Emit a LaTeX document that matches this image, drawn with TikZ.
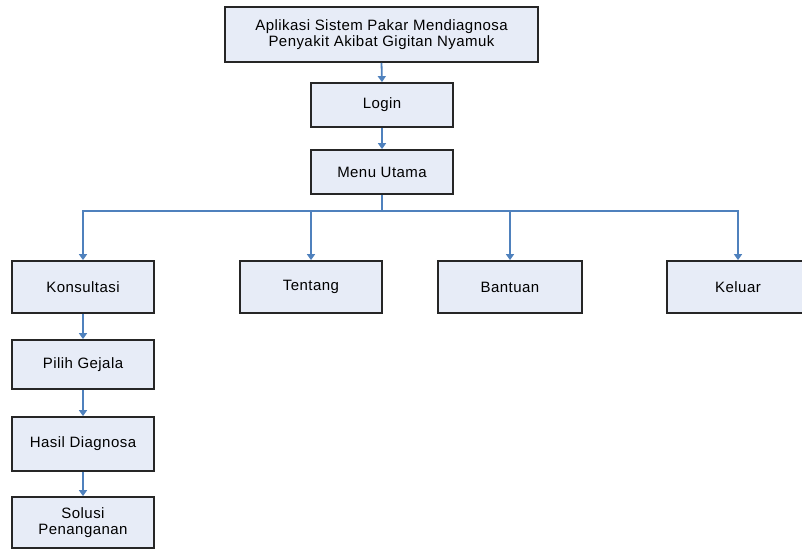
\documentclass[tikz,border=0pt]{standalone}
\usepackage{fontspec}
\setmainfont[LetterSpace=3]{Liberation Sans}
\usetikzlibrary{arrows.meta}
\definecolor{boxfill}{RGB}{231,236,247}
\definecolor{linkblue}{RGB}{79,129,189}
\begin{document}
\begin{tikzpicture}[x=1pt,y=-1pt,
  menubox/.style={draw=black!85, line width=1.8pt, fill=boxfill,
    minimum width=142pt, inner sep=0pt, align=center,
    font=\fontsize{15}{16.5}\selectfont},
  link/.style={draw=linkblue, line width=1.8pt,
    -{Triangle[width=8pt,length=6pt]}}]
\clip (0,0) rectangle (802,550);
\fill[white] (0,0) rectangle (802,550);

% top of the hierarchy
\node[menubox, minimum width=313pt, minimum height=55pt] (app) at (381.5,34.5)
  {Aplikasi Sistem Pakar Mendiagnosa\\Penyakit Akibat Gigitan Nyamuk};
\node[menubox, minimum height=44pt] (login) at (382,105) {Login};
\node[menubox, minimum height=44pt] (menu) at (382,172) {Menu Utama};

% main menu entries
\node[menubox, minimum height=52pt] (kons) at (83,287) {Konsultasi};
\node[menubox, minimum height=52pt] (tentang) at (311,287) {Tentang};
\node[menubox, minimum height=52pt, minimum width=144pt] (bantuan) at (510,287) {Bantuan};
\node[menubox, minimum height=52pt] (keluar) at (738,287) {Keluar};

% consultation flow
\node[menubox, minimum height=49pt] (gejala) at (83,364.5) {Pilih Gejala};
\node[menubox, minimum height=54pt] (hasil) at (83,444) {Hasil Diagnosa};
\node[menubox, minimum height=51pt] (solusi) at (83,522.5) {Solusi\\Penanganan};

\coordinate (bus) at (382,211);

% connectors
\draw[link] (app.south) -- (login.north);
\draw[link] (login.south) -- (menu.north);
\draw[draw=linkblue, line width=1.8pt] (menu.south) -- (bus);
\draw[link] (bus) -| (kons.north);
\draw[link] (bus) -| (tentang.north);
\draw[link] (bus) -| (bantuan.north);
\draw[link] (bus) -| (keluar.north);
\draw[link] (kons.south) -- (gejala.north);
\draw[link] (gejala.south) -- (hasil.north);
\draw[link] (hasil.south) -- (solusi.north);
\end{tikzpicture}
\end{document}
